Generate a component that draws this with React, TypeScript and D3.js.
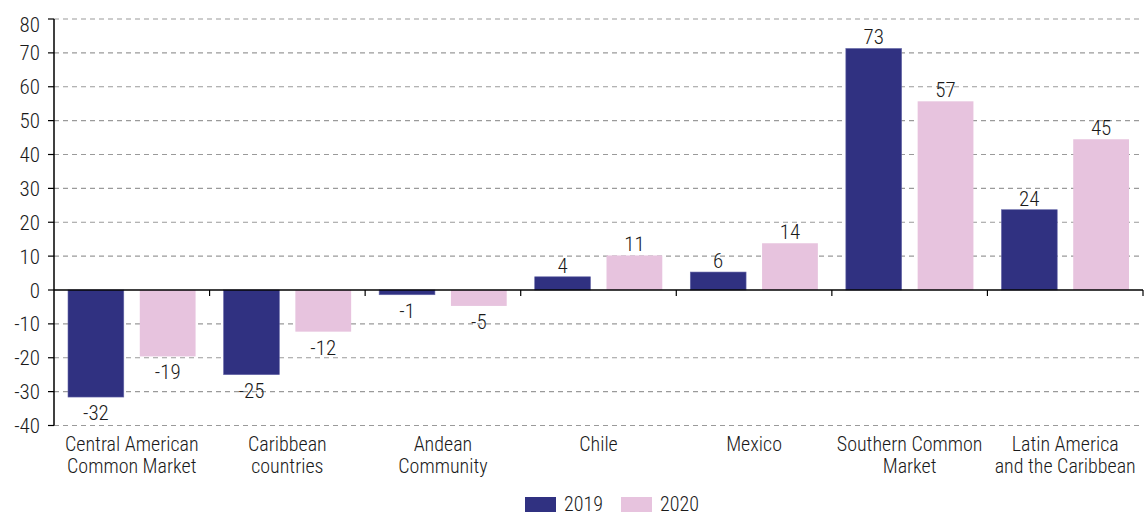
import * as React from "react";
import { scaleBand, scaleLinear } from "d3";

const categories = [
    ["Central American", "Common Market"],
    ["Caribbean", "countries"],
    ["Andean", "Community"],
    ["Chile"],
    ["Mexico"],
    ["Southern Common", "Market"],
    ["Latin America", "and the Caribbean"],
];
const series = ["2019", "2020"];
const values2019 = [-31.6, -25, -1.4, 3.9, 5.3, 71.3, 23.7];
const values2020 = [-19.6, -12.3, -4.7, 10.2, 13.8, 55.7, 44.5];
const labels2019 = ["-32", "-25", "-1", "4", "6", "73", "24"];
const labels2020 = ["-19", "-12", "-5", "11", "14", "57", "45"];
const yTicks = [-40, -30, -20, -10, 0, 10, 20, 30, 40, 50, 60, 70, 80];

const colors = ["#303181", "#e7c3de"];
const font = "'Roboto Condensed', 'Roboto', sans-serif";

const App: React.FC = () => {
    const width = 1147, height = 516;
    const margin = {top: 19, right: 4, bottom: 90, left: 54};

    const y = scaleLinear().domain([-40, 80]).range([height - margin.bottom - 0.5, margin.top]);
    const x = scaleBand<number>()
        .domain(categories.map((_, i) => i))
        .range([margin.left, width - margin.right]);
    const inner = scaleBand<string>()
        .domain(series)
        .range([0, x.bandwidth()])
        .paddingInner(0.223)
        .paddingOuter(0.195);

    const rows = [
        {key: series[0], values: values2019, labels: labels2019, color: colors[0]},
        {key: series[1], values: values2020, labels: labels2020, color: colors[1]},
    ];
    const y0 = y(0);

    return (
        <svg width={width} height={height}
             style={{position: "absolute", left: 0, top: 0, fontFamily: font, fontStretch: "condensed", fontWeight: 340}}>
            {/* gridlines */}
            {yTicks.filter(t => t !== 0).map(t => (
                <line key={"g" + t} x1={margin.left} x2={width - margin.right} y1={y(t)} y2={y(t)}
                      stroke="#9a9a9a" strokeWidth={1.2} strokeDasharray="5,4"/>
            ))}
            {/* bars */}
            {rows.map(r => r.values.map((v, i) => (
                <rect key={r.key + i} x={(x(i) as number) + (inner(r.key) as number)}
                      y={Math.min(y(v), y0)} width={inner.bandwidth()} height={Math.abs(y(v) - y0)}
                      fill={r.color} stroke={r.key === "2019" ? "#6667a8" : "none"} strokeWidth={0.6}/>
            )))}
            {/* value labels */}
            {rows.map(r => r.values.map((v, i) => (
                <text key={"l" + r.key + i}
                      x={(x(i) as number) + (inner(r.key) as number) + inner.bandwidth() / 2}
                      y={v >= 0 ? y(v) - 4 : y(v) + 23}
                      textAnchor="middle" fontSize={21} fill="#1a1a1a">{r.labels[i]}</text>
            )))}
            {/* x axis */}
            <line x1={margin.left} x2={width - margin.right} y1={y0} y2={y0} stroke="#000" strokeWidth={1.5}/>
            {categories.map((_, i) => (
                <line key={"xt" + i} x1={(x(i) as number) + x.bandwidth()} x2={(x(i) as number) + x.bandwidth()}
                      y1={y0} y2={y0 + 6} stroke="#000" strokeWidth={1.2}/>
            ))}
            {/* y axis */}
            <line x1={margin.left} x2={margin.left} y1={y(80)} y2={y(-40)} stroke="#000" strokeWidth={1.5}/>
            {yTicks.map(t => (
                <g key={"yt" + t}>
                    <line x1={margin.left - 6} x2={margin.left} y1={y(t)} y2={y(t)} stroke="#000" strokeWidth={1.2}/>
                    <text x={margin.left - 14} y={t === 80 ? y(t) + 13 : y(t) + 7.5} textAnchor="end"
                          fontSize={21} fill="#1a1a1a">{t}</text>
                </g>
            ))}
            {/* category labels */}
            {categories.map((lines, i) => (
                <text key={"c" + i} x={(x(i) as number) + x.bandwidth() / 2} y={451}
                      textAnchor="middle" fontSize={20} fill="#1a1a1a">
                    {lines.map((l, j) => (
                        <tspan key={j} x={(x(i) as number) + x.bandwidth() / 2} dy={j === 0 ? 0 : 22}>{l}</tspan>
                    ))}
                </text>
            ))}
            {/* legend */}
            {series.map((s, i) => (
                <g key={"lg" + s} transform={`translate(${525 + i * 96},497)`}>
                    <rect width={31} height={15} fill={colors[i]}/>
                    <text x={39} y={14} fontSize={20} fill="#1a1a1a">{s}</text>
                </g>
            ))}
        </svg>
    );
};

export default App;
